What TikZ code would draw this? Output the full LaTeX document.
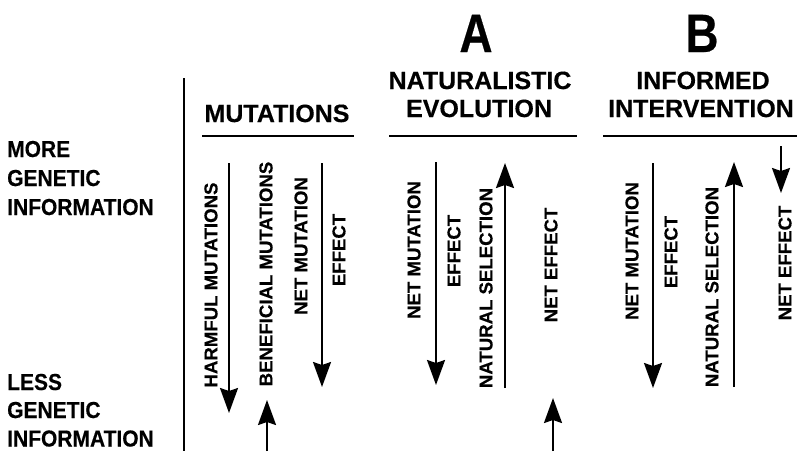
\documentclass[tikz,border=0pt]{standalone}
\usepackage{fontspec}
\usepackage{graphicx}
\setmainfont{Liberation Sans}[BoldFeatures={FakeBold=0.4}]
\usetikzlibrary{arrows.meta}
\newcommand{\tallA}[1]{\scalebox{1}[1.1]{#1}}
\begin{document}
\begin{tikzpicture}[x=1pt,y=-1pt,
  lbl/.style={font=\fontsize{21}{21}\selectfont\bfseries, anchor=base west, inner sep=0pt},
  headtxt/.style={font=\fontsize{25}{25}\selectfont\bfseries, anchor=base, inner sep=0pt},
  bigtxt/.style={font=\fontsize{54}{54}\selectfont\bfseries, anchor=base, inner sep=0pt},
  rlbl/.style={font=\fontsize{18.6}{18.6}\selectfont\bfseries, rotate=90, inner sep=0pt},
  arr/.style={line width=2pt, -{Stealth[length=25pt,width=18pt,inset=3pt]}},
  rulestyle/.style={line width=2.5pt}]
\useasboundingbox (0,0) rectangle (805,451);

% axis line
\coordinate (axtop) at (184,78);
\coordinate (axbot) at (184,451);
\draw[line width=2pt] (axtop) -- (axbot);

% left labels
\node[lbl] (more1) at (7,157) {\tallA{MORE}};
\node[lbl] (more2) at (7,186) {\tallA{GENETIC}};
\node[lbl] (more3) at (7,215) {\tallA{INFORMATION}};
\node[lbl] (less1) at (7,390) {\tallA{LESS}};
\node[lbl] (less2) at (7,418) {\tallA{GENETIC}};
\node[lbl] (less3) at (7,446.5) {\tallA{INFORMATION}};

% headings
\node[headtxt] (mut) at (277,122) {MUTATIONS};
\node[bigtxt] (A) at (476,52) {\scalebox{0.85}[1]{A}};
\node[headtxt] (nat1) at (480,89) {NATURALISTIC};
\node[headtxt] (nat2) at (479,117) {EVOLUTION};
\node[bigtxt] (B) at (702,52) {\scalebox{0.85}[1]{B}};
\node[headtxt] (inf1) at (703,89) {INFORMED};
\node[headtxt] (inf2) at (701,117) {INTERVENTION};

\coordinate (r1a) at (202,136); \coordinate (r1b) at (354,136);
\coordinate (r2a) at (389,136); \coordinate (r2b) at (577,136);
\coordinate (r3a) at (603,136); \coordinate (r3b) at (797,136);
\draw[rulestyle] (r1a) -- (r1b);
\draw[rulestyle] (r2a) -- (r2b);
\draw[rulestyle] (r3a) -- (r3b);

% mutations panel
\node[rlbl] (harm) at (211,285) {HARMFUL MUTATIONS};
\node[rlbl] (bene) at (266,274) {BENEFICIAL MUTATIONS};
\node[rlbl] (nm1) at (301,246) {NET MUTATION};
\node[rlbl] (ef1) at (339,250) {EFFECT};
\coordinate (h1) at (229,163); \coordinate (h2) at (229,413);
\coordinate (b1) at (267,451); \coordinate (b2) at (267,400);
\coordinate (n1) at (322,163); \coordinate (n2) at (322,387);
\draw[arr] (h1) -- (h2);
\draw[arr] (b1) -- (b2);
\draw[arr] (n1) -- (n2);

% naturalistic evolution panel
\node[rlbl] (nm2) at (414,250) {NET MUTATION};
\node[rlbl] (ef2) at (454,251) {EFFECT};
\node[rlbl] (ns2) at (486,288) {NATURAL SELECTION};
\node[rlbl] (ne2) at (551,265) {NET EFFECT};
\coordinate (a1) at (436,162); \coordinate (a2) at (436,385);
\coordinate (s1) at (505,388); \coordinate (s2) at (505,163);
\coordinate (e1) at (553,451); \coordinate (e2) at (553,398);
\draw[arr] (a1) -- (a2);
\draw[arr] (s1) -- (s2);
\draw[arr] (e1) -- (e2);

% informed intervention panel
\node[rlbl] (nm3) at (632,251) {NET MUTATION};
\node[rlbl] (ef3) at (671,252) {EFFECT};
\node[rlbl] (ns3) at (712,287) {NATURAL SELECTION};
\node[rlbl] (ne3) at (785,263) {NET EFFECT};
\coordinate (c1) at (653,163); \coordinate (c2) at (653,388);
\coordinate (t1) at (734,387); \coordinate (t2) at (734,162);
\coordinate (f1) at (781,146); \coordinate (f2) at (781,193);
\draw[arr] (c1) -- (c2);
\draw[arr] (t1) -- (t2);
\draw[arr] (f1) -- (f2);
\end{tikzpicture}
\end{document}
